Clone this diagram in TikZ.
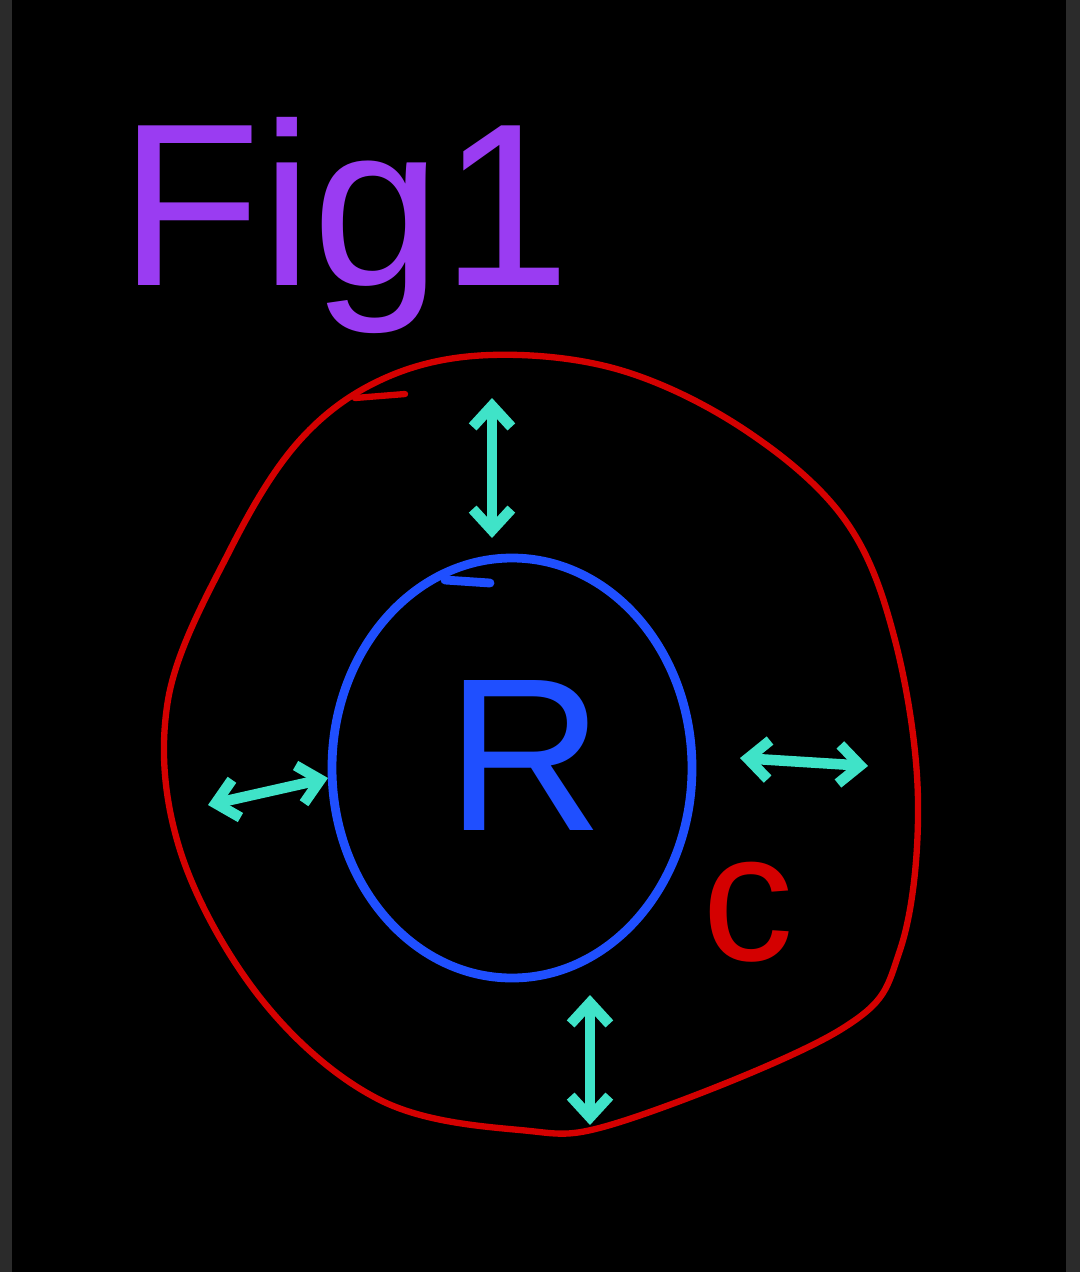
\documentclass[tikz,border=0pt]{standalone}
\usepackage{fontspec}
\setsansfont{Liberation Sans}
\usetikzlibrary{arrows.meta}
\definecolor{figpurple}{HTML}{9A3CF2}
\definecolor{ringred}{HTML}{D40000}
\definecolor{coreblue}{HTML}{1F4FFF}
\definecolor{arrowcyan}{HTML}{3FE3C8}
\definecolor{sidegray}{HTML}{2B2B2B}
\begin{document}
\begin{tikzpicture}[x=0.01cm,y=-0.01cm,
    ring/.style={draw=ringred,line width=1.8pt,line cap=round,line join=round},
    gap/.style={arrowcyan,line width=3pt,line cap=round,{Straight Barb[length=6pt,width=11pt]}-{Straight Barb[length=6pt,width=11pt]}}]
    \fill[black] (0,0) rectangle (1080,1272);  %Hintergrund
    \useasboundingbox (0,0) rectangle (1080,1272);
    \fill[sidegray] (0,0) rectangle (12,1272);  %linker Rand
    \fill[sidegray] (1066,0) rectangle (1080,1272);  %rechter Rand
    \node[text=figpurple,font=\sffamily\fontsize{66}{66}\selectfont] (title) at (345,225) {Fig1};
    \draw[ring] plot[smooth cycle,tension=0.6] coordinates
      {(385,378) (490,355) (620,370) (745,430) (845,520) (895,640) (918,800) (900,950) (840,1030)
       (620,1122) (520,1130) (380,1100) (262,1000) (180,850) (168,700) (230,550) (300,440)};  %aeusserer Ring
    \draw[ring] (355,398) -- (405,394);  %Strich oben links
    \draw[coreblue,line width=2.5pt] (512,768) ellipse (180 and 210);  %innerer Kreis
    \draw[coreblue,line width=2.5pt,line cap=round] (445,580) -- (490,583);  %Strich oben
    \node[text=coreblue,font=\sffamily\fontsize{62}{62}\selectfont] (core) at (525,755) {R};
    \node[text=ringred,font=\sffamily\fontsize{52}{52}\selectfont] (label) at (748,912) {c};
    \foreach \name/\xa/\ya/\xb/\yb in
    {
      top/492/398/492/538,
      left/208/805/328/778,
      right/740/758/868/766,
      bottom/590/995/590/1125
    }
    {
      \coordinate (\name a) at (\xa,\ya);
      \coordinate (\name b) at (\xb,\yb);
      \draw[gap] (\name a) -- (\name b);  %Abstand
    };
\end{tikzpicture}
\end{document}
